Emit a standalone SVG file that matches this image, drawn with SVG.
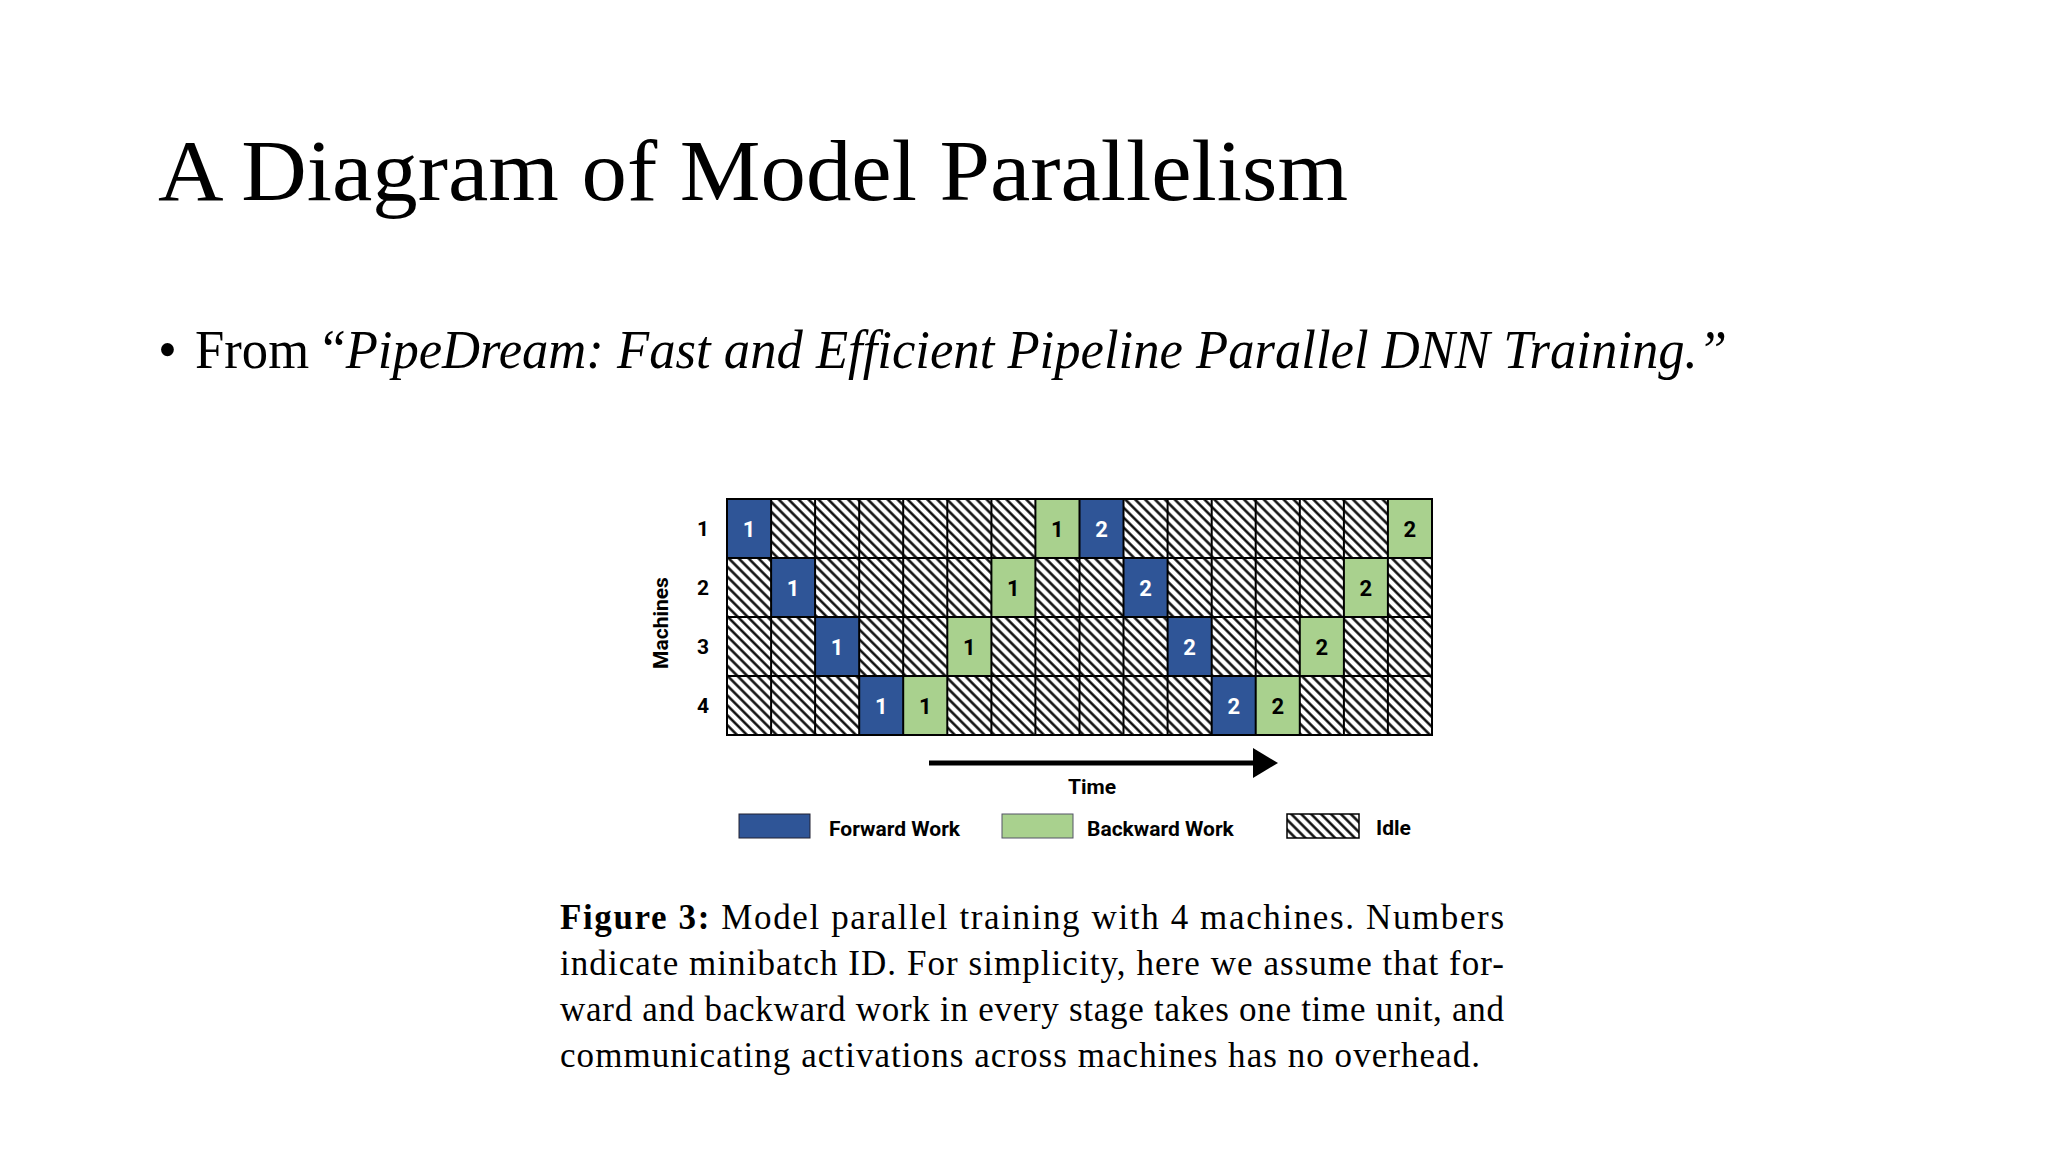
<svg xmlns="http://www.w3.org/2000/svg" width="2048" height="1152" viewBox="0 0 2048 1152">
<style>
.title{font-family:"Liberation Serif",serif;font-size:86px;fill:#000}
.bul{font-family:"Liberation Serif",serif;font-size:54px;fill:#000}
.lab{font-family:Roboto,"Liberation Sans",sans-serif;font-weight:bold;font-size:21px;fill:#000}
.num{font-family:Roboto,"Liberation Sans",sans-serif;font-weight:bold;font-size:22px;text-anchor:middle}
.cap{font-family:"Liberation Serif",serif;font-size:35px;fill:#000}
.f{fill:#2F5597}.b{fill:#A9D18E}
.grid{fill:none;stroke:#000;stroke-width:2}
</style>
<defs>
<pattern id="hatch" patternUnits="userSpaceOnUse" width="7" height="7" patternTransform="rotate(-45)">
<rect width="7" height="7" fill="#fff"/>
<line x1="1.5" y1="0" x2="1.5" y2="7" stroke="#000" stroke-width="2.4"/>
</pattern>
<marker id="ah" markerWidth="6" markerHeight="6" refX="1" refY="3" orient="auto" markerUnits="strokeWidth">
<path d="M0,0 L5,3 L0,6 Z" fill="#000"/>
</marker>
</defs>
<rect width="2048" height="1152" fill="#fff"/>
<text class="title" x="158" y="200" textLength="1190" lengthAdjust="spacingAndGlyphs">A Diagram of Model Parallelism</text>
<text class="bul" x="158" y="368">•</text>
<text class="bul" x="195" y="368" textLength="1532" lengthAdjust="spacingAndGlyphs">From “<tspan font-style="italic">PipeDream: Fast and Efficient Pipeline Parallel DNN Training.”</tspan></text>
<g id="grid">
<rect x="727" y="499" width="705" height="236" fill="url(#hatch)"/>
<g id="cells">
<rect class="f" x="727" y="499" width="44.06" height="59"/>
<rect class="b" x="1035.4" y="499" width="44.06" height="59"/>
<rect class="f" x="1079.5" y="499" width="44.06" height="59"/>
<rect class="b" x="1387.9" y="499" width="44.06" height="59"/>
<rect class="f" x="771.1" y="558" width="44.06" height="59"/>
<rect class="b" x="991.4" y="558" width="44.06" height="59"/>
<rect class="f" x="1123.5" y="558" width="44.06" height="59"/>
<rect class="b" x="1343.9" y="558" width="44.06" height="59"/>
<rect class="f" x="815.1" y="617" width="44.06" height="59"/>
<rect class="b" x="947.3" y="617" width="44.06" height="59"/>
<rect class="f" x="1167.6" y="617" width="44.06" height="59"/>
<rect class="b" x="1299.8" y="617" width="44.06" height="59"/>
<rect class="f" x="859.2" y="676" width="44.06" height="59"/>
<rect class="b" x="903.2" y="676" width="44.06" height="59"/>
<rect class="f" x="1211.7" y="676" width="44.06" height="59"/>
<rect class="b" x="1255.7" y="676" width="44.06" height="59"/>
</g>
<g id="nums">
<text class="num" fill="#fff" x="749" y="537">1</text>
<text class="num" x="1057.4" y="537">1</text>
<text class="num" fill="#fff" x="1101.5" y="537">2</text>
<text class="num" x="1409.9" y="537">2</text>
<text class="num" fill="#fff" x="793.1" y="596">1</text>
<text class="num" x="1013.4" y="596">1</text>
<text class="num" fill="#fff" x="1145.5" y="596">2</text>
<text class="num" x="1365.9" y="596">2</text>
<text class="num" fill="#fff" x="837.1" y="655">1</text>
<text class="num" x="969.3" y="655">1</text>
<text class="num" fill="#fff" x="1189.6" y="655">2</text>
<text class="num" x="1321.8" y="655">2</text>
<text class="num" fill="#fff" x="881.2" y="714">1</text>
<text class="num" x="925.2" y="714">1</text>
<text class="num" fill="#fff" x="1233.7" y="714">2</text>
<text class="num" x="1277.7" y="714">2</text>
</g>
<path class="grid" d="M771.1,499V735M815.1,499V735M859.2,499V735M903.2,499V735M947.3,499V735M991.4,499V735M1035.4,499V735M1079.5,499V735M1123.5,499V735M1167.6,499V735M1211.7,499V735M1255.7,499V735M1299.8,499V735M1343.9,499V735M1387.9,499V735M727,558H1432M727,617H1432M727,676H1432"/>
<rect class="grid" x="727" y="499" width="705" height="236"/>
</g>
<g id="axis">
<text class="lab" x="703" y="536" text-anchor="middle">1</text>
<text class="lab" x="703" y="595" text-anchor="middle">2</text>
<text class="lab" x="703" y="654" text-anchor="middle">3</text>
<text class="lab" x="703" y="713" text-anchor="middle">4</text>
<text class="lab" font-size="24" text-anchor="middle" transform="translate(668,623) rotate(-90)">Machines</text>
</g>
<g id="connectors">
<line x1="929" y1="763" x2="1258" y2="763" stroke="#000" stroke-width="5" marker-end="url(#ah)"/>
</g>
<text class="lab" font-size="23" x="1092" y="794" text-anchor="middle">Time</text>
<g id="legend">
<rect class="f" x="739" y="814" width="71" height="24" stroke="#223" stroke-width="1"/>
<text class="lab" x="829" y="836">Forward Work</text>
<rect class="b" x="1002" y="814" width="71" height="24" stroke="#556" stroke-width="1"/>
<text class="lab" x="1087" y="836">Backward Work</text>
<rect x="1287" y="814" width="72" height="24" fill="url(#hatch)" stroke="#000" stroke-width="1.5"/>
<text class="lab" x="1376" y="835">Idle</text>
</g>
<g id="caption">
<text class="cap" x="560" y="929" textLength="944" lengthAdjust="spacing"><tspan font-weight="bold">Figure 3:</tspan> Model parallel training with 4 machines.  Numbers</text>
<text class="cap" x="560" y="975" textLength="944" lengthAdjust="spacing">indicate minibatch ID. For simplicity, here we assume that for-</text>
<text class="cap" x="560" y="1021" textLength="944" lengthAdjust="spacing">ward and backward work in every stage takes one time unit, and</text>
<text class="cap" x="560" y="1067" textLength="920" lengthAdjust="spacing">communicating activations across machines has no overhead.</text>
</g>
</svg>
